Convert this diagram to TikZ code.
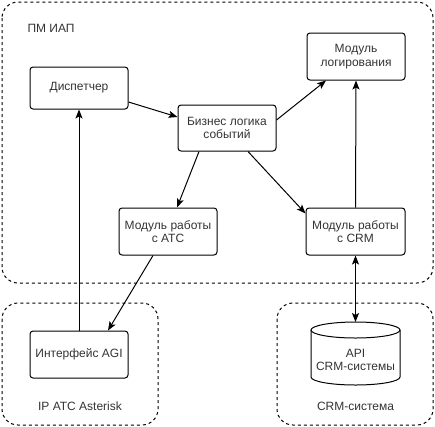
\documentclass[tikz,border=0pt]{standalone}
\usepackage{fontspec}
\setmainfont{Liberation Sans}
\usetikzlibrary{arrows.meta}
\definecolor{txt}{HTML}{333333}
\tikzset{
  box/.style={draw=black, line width=1pt, rounded corners=3pt, minimum width=98pt, minimum height=47pt, align=center, text=txt, inner sep=1pt, font=\fontsize{12}{13.5}\selectfont},
  group/.style={draw=black, line width=1pt, dash pattern=on 3pt off 3pt, rounded corners=16pt},
  lbl/.style={text=txt, font=\fontsize{12}{13.5}\selectfont, align=center},
  conn/.style={draw=black, line width=1pt, -{Stealth[length=9pt,width=7pt,inset=2pt]}},
  bconn/.style={draw=black, line width=1pt, {Stealth[length=9pt,width=7pt,inset=2pt]}-{Stealth[length=9pt,width=7pt,inset=2pt]}}
}
\begin{document}
\begin{tikzpicture}[x=1pt,y=-1pt]
\useasboundingbox (0,0) rectangle (435,426);
\draw[group] (2,2) rectangle (433,283);
\draw[group] (2,303) rectangle (158,425);
\draw[group] (277,303) rectangle (433,425);
\node[lbl, anchor=west] (t1) at (24,28) {ПМ ИАП};
\node[lbl] (t2) at (80,406) {IP ATC Asterisk};
\node[lbl] (t3) at (355.5,406) {CRM-система};

\node[box, minimum height=42pt] (disp) at (79,88) {Диспетчер};
\node[box, minimum height=46pt] (biz) at (227,128) {Бизнес логика\\событий};
\node[box] (log) at (356,56.5) {Модуль\\логирования};
\node[box] (atc) at (168,231.5) {Модуль работы\\с АТС};
\node[box, minimum width=99pt] (crm) at (355.5,231.5) {Модуль работы\\с CRM};
\node[box] (agi) at (79,354.5) {Интерфейс AGI};

% cylinder
\draw[black, line width=1pt] (311,330) -- (311,377) arc[start angle=180, end angle=360, x radius=44.5, y radius=-8] -- (400,330);
\draw[black, line width=1pt] (355.5,330) ellipse [x radius=44.5, y radius=8];
\coordinate (apitop) at (355.5,322);
\node[lbl] (api) at (355.5,360) {API\\CRM-системы};

\draw[conn] ([yshift=-14pt]disp.east) -- ([yshift=11pt]biz.west);
\draw[conn] (agi.north) -- (disp.south);
\draw[conn] ([xshift=-28pt]biz.south) -- ([xshift=9pt]atc.north);
\draw[conn] ([yshift=8pt]biz.east) -- ([xshift=-30pt]log.south);
\draw[conn] ([xshift=21pt]biz.south) -- ([yshift=-6pt]crm.north west);
\draw[conn] (crm.north) -- (log.south);
\draw[conn] ([xshift=-15pt]atc.south) -- ([xshift=29pt]agi.north);
\draw[bconn] (crm.south) -- (apitop);
\end{tikzpicture}
\end{document}
